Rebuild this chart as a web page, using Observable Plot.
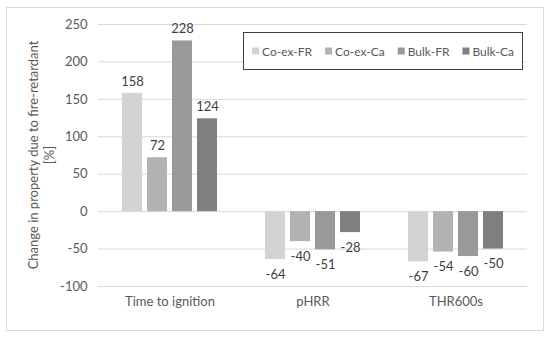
<!DOCTYPE html>
<html>
<head>
<meta charset="utf-8">
<script src="https://cdn.jsdelivr.net/npm/d3@7"></script>
<script src="https://cdn.jsdelivr.net/npm/@observablehq/plot@0.6"></script>
<style>
  html, body { margin: 0; padding: 0; background: #fff; }
  #chart svg { display: block; }
</style>
</head>
<body>
<div id="chart"></div>
<script>
const categories = ["Time to ignition", "pHRR", "THR600s"];
const series = ["Co-ex-FR", "Co-ex-Ca", "Bulk-FR", "Bulk-Ca"];
const seriesColors = ["#d3d3d3", "#b2b2b2", "#999999", "#7f7f7f"];
const valuesCoexFR = [158, -64, -67];
const valuesCoexCa = [72, -40, -54];
const valuesBulkFR = [228, -51, -60];
const valuesBulkCa = [124, -28, -50];
const yTicks = [-100, -50, 0, 50, 100, 150, 200, 250];
const yTitle = ["Change in property due to fire-retardant", "[%]"];

const seriesValues = [valuesCoexFR, valuesCoexCa, valuesBulkFR, valuesBulkCa];
const data = [];
categories.forEach((c, i) => {
  series.forEach((s, j) => {
    data.push({category: c, series: s, value: seriesValues[j][i]});
  });
});

const font = "Lato, 'Open Sans', sans-serif";

const chart = Plot.plot({
  width: 550,
  height: 337,
  marginLeft: 98,
  marginRight: 23,
  marginTop: 24,
  marginBottom: 51,
  style: {fontFamily: font, fontSize: "13px", color: "#595959", background: "#fff", overflow: "visible"},
  fx: {domain: categories, padding: 0, label: null, axis: "bottom", tickSize: 0, tickPadding: 10},
  x: {domain: series, paddingInner: 0.19, paddingOuter: 0.85, axis: null},
  y: {domain: [-100, 250], ticks: yTicks, tickSize: 0, tickPadding: 11, label: null, tickFormat: d => d < 0 ? "-" + Math.abs(d) : String(d)},
  color: {domain: series, range: seriesColors},
  marks: [
    Plot.ruleY(yTicks, {stroke: "#d9d9d9", strokeWidth: 1}),
    Plot.barY(data, {fx: "category", x: "series", y: "value", fill: "series"}),
    Plot.text(data.filter(d => d.value >= 0), {fx: "category", x: "series", y: "value", text: d => String(d.value), dy: -12, fill: "#404040", fontSize: 13}),
    Plot.text(data.filter(d => d.value < 0), {fx: "category", x: "series", y: "value", text: d => "-" + Math.abs(d.value), dy: 15, fill: "#404040", fontSize: 13})
  ]
});

document.getElementById("chart").appendChild(chart);

const svg = d3.select(chart);
// outer border
svg.insert("rect", ":first-child")
  .attr("x", 6.5).attr("y", 7.5).attr("width", 537).attr("height", 323)
  .attr("fill", "#fff").attr("stroke", "#d9d9d9");

// y-axis title (two lines)
const yScale = chart.scale("y");
const yMid = (yScale.apply(250) + yScale.apply(-100)) / 2;
svg.append("text")
  .attr("transform", `translate(33,${yMid}) rotate(-90)`)
  .attr("text-anchor", "middle").attr("dominant-baseline", "central")
  .attr("fill", "#595959").style("font-family", font).style("font-size", "13px")
  .text(yTitle[0]);
svg.append("text")
  .attr("transform", `translate(49,${yMid}) rotate(-90)`)
  .attr("text-anchor", "middle").attr("dominant-baseline", "central")
  .attr("fill", "#595959").style("font-family", font).style("font-size", "13px")
  .text(yTitle[1]);

// legend
const color = chart.scale("color");
const box = {x: 243.5, y: 32.5, w: 279, h: 37};
const lg = svg.append("g");
lg.append("rect").attr("x", box.x).attr("y", box.y).attr("width", box.w).attr("height", box.h)
  .attr("fill", "#fff").attr("stroke", "#404040").attr("stroke-width", 1);
const items = lg.append("g");
const gap = 13;
let cx = 0;
series.forEach((s, i) => {
  const g = items.append("g").attr("transform", `translate(${cx},0)`);
  g.append("rect").attr("x", 0).attr("y", -3.5).attr("width", 7).attr("height", 7).attr("fill", color.apply(s));
  const t = g.append("text").attr("x", 10).attr("y", 0).attr("dominant-baseline", "central")
    .attr("text-anchor", "start")
    .attr("fill", "#595959").style("font-family", font).style("font-size", "12px").text(s);
  const w = t.node().getComputedTextLength();
  cx += 10 + w + gap;
});
const total = cx - gap;
items.attr("transform", `translate(${box.x + (box.w - total) / 2},${box.y + box.h / 2})`);
</script>
</body>
</html>
